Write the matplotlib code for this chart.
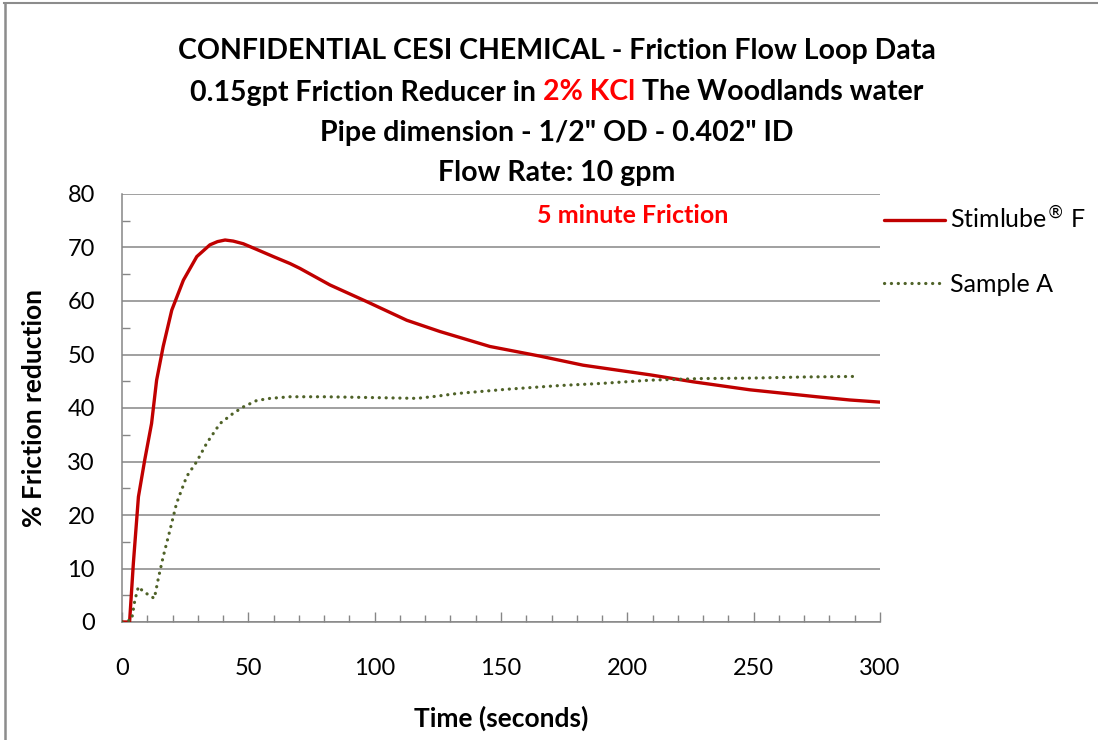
import matplotlib
matplotlib.use("Agg")
import matplotlib.pyplot as plt
from matplotlib.lines import Line2D

plt.rcParams['font.family'] = ['Lato', 'DejaVu Sans']

# ---- data ----
stim_t = [0, 3, 4.5, 6.5, 9, 11.7, 13.7, 16.3, 19.7, 24.3, 29.6, 34.8, 37.8, 40.8, 44,
          48, 53, 59.9, 66.5, 70.4, 82.3, 96.8, 112.7, 125.8, 145.6, 165.4, 182.5, 209,
          226, 248.5, 275, 288, 300]
stim_y = [0, 0, 11, 23.4, 30.3, 37.1, 45.2, 51.5, 58.3, 63.9, 68.3, 70.5, 71.1, 71.4, 71.2,
          70.7, 69.7, 68.3, 67.0, 66.1, 63.0, 59.9, 56.4, 54.3, 51.5, 49.7, 48.0, 46.2,
          44.9, 43.4, 42.1, 41.5, 41.1]

samp_t = [0, 3.8, 5.1, 6.5, 8.4, 10.8, 12.8, 14.4, 16.3, 19, 21.6, 25.6, 29.6, 33.5,
          38.8, 44, 48, 53.3, 58.6, 66.5, 80, 92.9, 105, 116.6, 124.5, 132.4, 152.2,
          173.3, 190, 209, 228.7, 250, 270, 290]
samp_y = [0, 0.4, 4.1, 6.6, 5.7, 5.0, 4.4, 8.2, 12.2, 17.2, 22.2, 27.2, 30, 33.4,
          37.1, 39, 40.2, 41.4, 41.8, 42.1, 42.1, 42.0, 41.9, 41.8, 42.2, 42.7, 43.5,
          44.2, 44.6, 45.2, 45.5, 45.6, 45.8, 45.9]

series_names = ["Stimlube$^{\u00ae}$ F", "Sample A"]
x_ticks = [0, 50, 100, 150, 200, 250, 300]
y_ticks = [0, 10, 20, 30, 40, 50, 60, 70, 80]

title_lines = [
    [("CONFIDENTIAL CESI CHEMICAL - Friction Flow Loop Data", "black")],
    [("0.15gpt Friction Reducer in", "black"), ("2% KCl", "#FF0000"),
     ("The Woodlands water", "black")],
    [("Pipe dimension - 1/2\" OD - 0.402\" ID", "black")],
    [("Flow Rate: 10 gpm", "black")],
]
annotation = "5 minute Friction"

W, H = 1098, 740
fig = plt.figure(figsize=(W / 100, H / 100), dpi=100)
ax = fig.add_axes([122 / W, 1 - 622 / H, (880 - 122) / W, (622 - 194) / H])

grid_c = "#868686"
ax.plot(stim_t, stim_y, color="#C00000", lw=2.4, label=series_names[0],
        solid_capstyle="round", solid_joinstyle="round", zorder=3)
ax.plot(samp_t, samp_y, color="#4F6228", lw=2.3, linestyle=(0, (0.05, 2.1)),
        dash_capstyle="round", label=series_names[1], zorder=3)

ax.set_xlim(0, 300)
ax.set_ylim(0, 80)
ax.set_xticks(x_ticks)
ax.set_xticks(range(0, 301, 10), minor=True)
ax.set_yticks(y_ticks)
ax.set_yticks(range(5, 80, 10), minor=True)
ax.yaxis.grid(True, color=grid_c, lw=1.1)
ax.set_axisbelow(True)
for s in ["top", "right"]:
    ax.spines[s].set_visible(False)
for s in ["left", "bottom"]:
    ax.spines[s].set_color(grid_c)
    ax.spines[s].set_linewidth(1.1)
ax.tick_params(axis="x", which="major", direction="in", length=7, width=1, color=grid_c,
               labelsize=17, pad=26)
ax.tick_params(axis="x", which="minor", direction="in", length=5, width=1, color=grid_c)
ax.tick_params(axis="y", which="major", direction="in", length=0, labelsize=17, pad=19.5)
ax.tick_params(axis="y", which="minor", direction="in", length=6, width=1, color=grid_c)

ax.set_xlabel("Time (seconds)", fontsize=19, fontweight="bold", va="center")
ax.xaxis.set_label_coords(0.5, (622 - 718) / 428)
ax.set_ylabel("% Friction reduction", fontsize=19, fontweight="bold", va="center")
ax.yaxis.set_label_coords((34 - 122) / 758, 0.5)

ax.text(202, 76, annotation, color="#FF0000", fontsize=18, fontweight="bold",
        ha="center", va="center")

leg = ax.legend(loc="upper left", bbox_to_anchor=(1.0, 0.983), frameon=False,
                fontsize=18, handlelength=2.45, handletextpad=0.2, labelspacing=1.63,
                borderpad=0.0, borderaxespad=0.15)

# ---- title with mixed colours ----
r = fig.canvas.get_renderer()
fs = 20.5
baselines = [59.5, 100.5, 141, 181.5]
cx = 557


def width(s):
    t = fig.text(0, 0, s, fontsize=fs, fontweight="bold")
    w = t.get_window_extent(r).width
    t.remove()
    return w


space = width("x x") - width("xx")
for parts, yb in zip(title_lines, baselines):
    widths = [width(s) for s, _ in parts]
    total = sum(widths) + space * (len(parts) - 1)
    x = cx - total / 2
    for (s, c), w in zip(parts, widths):
        fig.text(x / W, 1 - yb / H, s, color=c, fontsize=fs, fontweight="bold",
                 ha="left", va="baseline")
        x += w + space

# figure border (top and left edges)
fig.add_artist(Line2D([4 / W, 1], [1 - 2.5 / H, 1 - 2.5 / H], color="#8C8C8C", lw=1.5,
                      transform=fig.transFigure))
fig.add_artist(Line2D([4.5 / W, 4.5 / W], [0, 1 - 2.5 / H], color="#8C8C8C", lw=1.8,
                      transform=fig.transFigure))

fig.savefig("out.png", dpi=100)
